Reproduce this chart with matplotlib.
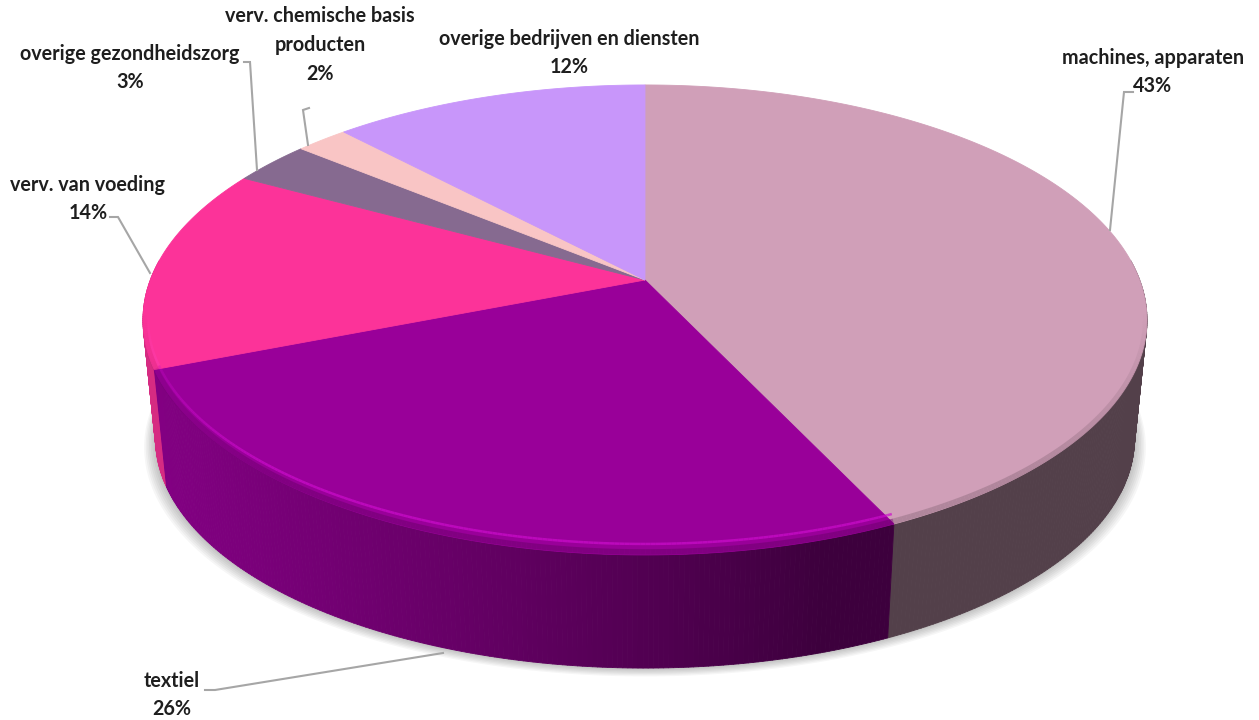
import numpy as np
import matplotlib
matplotlib.use("Agg")
import matplotlib.pyplot as plt
from matplotlib.collections import PolyCollection, LineCollection
from matplotlib.colors import to_rgb

# ---------------- data ----------------
categories = ["machines, apparaten", "textiel", "verv. van voeding",
              "overige gezondheidszorg", "verv. chemische basis\nproducten",
              "overige bedrijven en diensten"]
values = [43, 26, 14, 3, 2, 12]
colors = ["#D09FB8", "#990099", "#FC3399", "#866A90", "#F9C5C5", "#C896FA"]

# ---------------- layout ----------------
label_pos = [(1153, 72), (172, 695), (88, 199), (130, 68), (320, 45), (569, 53)]
leaders = [
    [(1133, 92), (1124, 92), (1110, 230)],
    [(205, 690), (215, 690), (443, 653)],
    [(110, 217), (118, 217), (150, 273)],
    [(244, 62), (250, 62), (257, 170)],
    [(309, 108), (303, 110), (308, 145)],
    None,
]

W, H = 1259, 720
fig = plt.figure(figsize=(W / 100, H / 100), dpi=100)
ax = fig.add_axes([0, 0, 1, 1])
ax.set_xlim(0, W)
ax.set_ylim(H, 0)
ax.axis("off")

# perspective pie geometry
cx, cy0 = 645.0, 280.0
A, B, K = 494.7, 228.2, 0.17
ecy = 320.0           # centre of projected top ellipse
SHR, DEPTH = 0.975, 119.0


def top_pt(theta, r=1.0):
    t = np.radians(theta)
    u, v = r * np.sin(t), -r * np.cos(t)
    s = 1.0 / (1.0 - K * v)
    return cx + A * u * s, cy0 + B * v * s


def bot_pt(theta):
    x, y = top_pt(theta)
    return cx + (x - cx) * SHR, ecy + (y - ecy) * SHR + DEPTH


def inset_pt(theta, d):
    x, y = top_pt(theta)
    t = np.radians(theta)
    return x - 0.45 * d * np.sin(t), y + d * np.cos(t)


vals = np.array(values, dtype=float)
cum = np.concatenate([[0], np.cumsum(vals)]) / vals.sum() * 360.0

# ---- soft shadow under the pie ----
th_all = np.linspace(0, 360, 361)
bx, by = zip(*[bot_pt(t) for t in th_all])
bx, by = np.array(bx), np.array(by)
for off in np.linspace(2, 14, 7):
    sx = cx + (bx - cx) * (1 + off / 600)
    sy = by + off * 0.6
    ax.fill(sx, sy, color="black", alpha=0.035, lw=0, zorder=1)

# ---- side walls ----
L = np.array([-0.954, 0.301])
quads, qcols, qkeys = [], [], []
step = 0.5
for i in range(len(vals)):
    a0, a1 = cum[i], cum[i + 1]
    lo, hi = max(a0, 85.0), min(a1, 275.0)
    if hi <= lo:
        continue
    n = max(2, int(np.ceil((hi - lo) / step)) + 1)
    ths = np.linspace(lo, hi, n)
    base = np.array(to_rgb(colors[i]))
    for ta, tb in zip(ths[:-1], ths[1:]):
        tm = np.radians(0.5 * (ta + tb))
        nrm = np.array([np.sin(tm), -np.cos(tm)])
        f = 0.40 + 0.45 * max(0.0, float(nrm @ L))
        p1, p2 = top_pt(ta), top_pt(tb)
        p3, p4 = bot_pt(tb), bot_pt(ta)
        quads.append([p1, p2, p3, p4])
        qcols.append(tuple(np.clip(base * f, 0, 1)))
        qkeys.append(-np.cos(tm))
order = np.argsort(qkeys)
ax.add_collection(PolyCollection([quads[j] for j in order],
                                 facecolors=[qcols[j] for j in order],
                                 edgecolors=[qcols[j] for j in order],
                                 linewidths=0.6, zorder=2))

# ---- top faces ----
for i in range(len(vals)):
    ths = np.linspace(cum[i], cum[i + 1], max(3, int((cum[i + 1] - cum[i]) * 2)))
    pts = [(cx, cy0)] + [top_pt(t) for t in ths]
    ax.add_patch(plt.Polygon(pts, closed=True, facecolor=colors[i],
                             edgecolor=colors[i], lw=0.6, zorder=3))

# ---- bevel: soft darker rim + highlight on front edge ----
segs, scol = [], []
segs2, scol2 = [], []
for i in range(len(vals)):
    lo, hi = max(cum[i], 95.0), min(cum[i + 1], 265.0)
    if hi <= lo:
        continue
    ths = np.linspace(lo, hi, max(3, int((hi - lo) * 2)))
    base = np.array(to_rgb(colors[i]))
    lum = base @ np.array([0.3, 0.59, 0.11])
    light = np.clip(base * 1.25 + 0.05, 0, 1)
    for ta, tb in zip(ths[:-1], ths[1:]):
        v = -np.cos(np.radians(0.5 * (ta + tb)))
        alpha = float(np.clip((v - 0.15) / 0.6, 0, 1))
        segs2.append([inset_pt(ta, 3), inset_pt(tb, 3)])
        scol2.append((*(base * 0.7), 0.5 * alpha))
        if lum < 0.5:
            segs.append([inset_pt(ta, 11), inset_pt(tb, 11)])
            scol.append((*light, 0.7 * alpha))
ax.add_collection(LineCollection(segs2, colors=scol2, linewidths=4.0, zorder=4,
                                 capstyle="butt"))
ax.add_collection(LineCollection(segs, colors=scol, linewidths=1.8, zorder=4,
                                 capstyle="butt"))

# ---- labels ----
for i in range(len(vals)):
    pct = f"{int(round(vals[i] / vals.sum() * 100))}%"
    x, y = label_pos[i]
    ax.text(x, y, f"{categories[i]}\n{pct}", ha="center", va="center",
            fontsize=14.2, fontweight="bold", family=["Lato", "DejaVu Sans"],
            color="#1E1E1E", linespacing=1.55, zorder=6)
    if leaders[i]:
        lx, ly = zip(*leaders[i])
        ax.plot(lx, ly, color="#A6A6A6", lw=1.5, zorder=5,
                solid_joinstyle="miter")

fig.savefig("out.png", dpi=100, facecolor="white")
